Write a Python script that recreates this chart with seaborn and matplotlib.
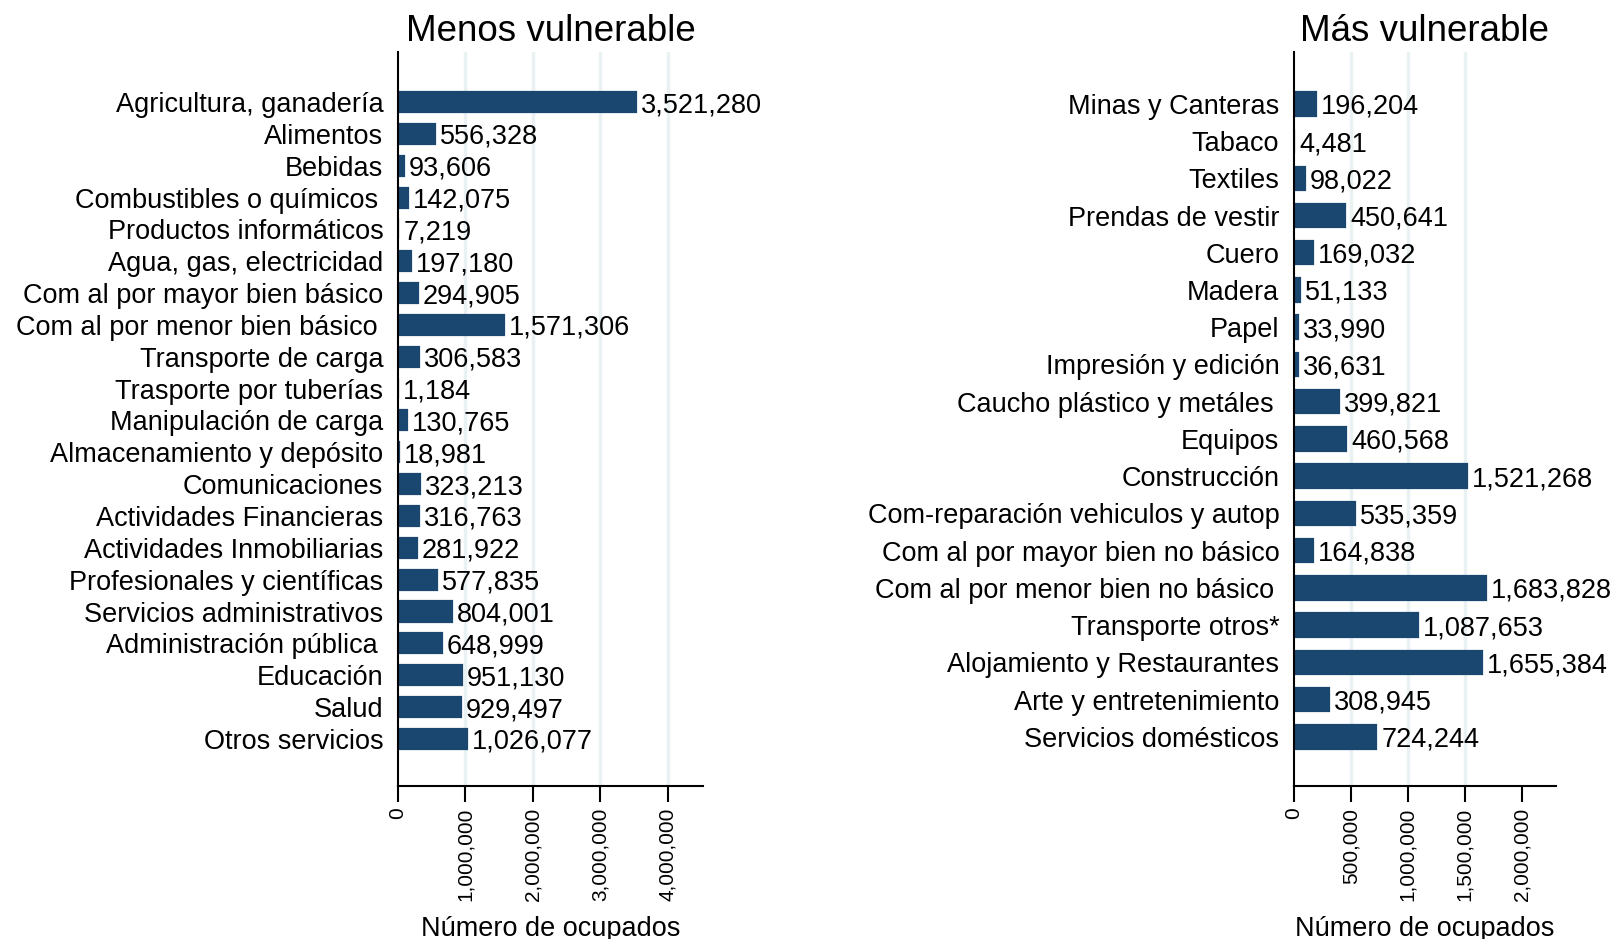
import pandas as pd
import matplotlib.pyplot as plt
import matplotlib.ticker as mticker
import seaborn as sns

# Menos vulnerable
sect_menos = ['Agricultura, ganadería', 'Alimentos', 'Bebidas', 'Combustibles o químicos\u2009',
              'Productos informáticos', 'Agua, gas, electricidad', 'Com al por mayor bien básico',
              'Com al por menor bien básico\u2009', 'Transporte de carga', 'Trasporte por tuberías',
              'Manipulación de carga', 'Almacenamiento y depósito', 'Comunicaciones',
              'Actividades Financieras', 'Actividades Inmobiliarias', 'Profesionales y científicas',
              'Servicios administrativos', 'Administración pública\u2009', 'Educación', 'Salud',
              'Otros servicios']
ocup_menos = [3521280, 556328, 93606, 142075, 7219, 197180, 294905, 1571306, 306583, 1184,
              130765, 18981, 323213, 316763, 281922, 577835, 804001, 648999, 951130, 929497,
              1026077]

# Más vulnerable
sect_mas = ['Minas y Canteras', 'Tabaco', 'Textiles', 'Prendas de vestir', 'Cuero', 'Madera',
            'Papel', 'Impresión y edición', 'Caucho plástico y metáles\u2009', 'Equipos', 'Construcción',
            'Com-reparación vehiculos y autop', 'Com al por mayor bien no básico',
            'Com al por menor bien no básico\u2009', 'Transporte otros*', 'Alojamiento y Restaurantes',
            'Arte y entretenimiento', 'Servicios domésticos']
ocup_mas = [196204, 4481, 98022, 450641, 169032, 51133, 33990, 36631, 399821, 460568, 1521268,
            535359, 164838, 1683828, 1087653, 1655384, 308945, 724244]

ticks_menos = [0, 1000000, 2000000, 3000000, 4000000]
ticks_mas = [0, 500000, 1000000, 1500000, 2000000]

sns.set_style('white')
plt.rcParams['font.family'] = ['Liberation Sans', 'DejaVu Sans']
for k in ['text.color', 'axes.labelcolor', 'xtick.color', 'ytick.color']:
    plt.rcParams[k] = 'black'

navy = '#1a476f'
grid_col = '#e9f1f3'

fig = plt.figure(figsize=(16.13, 9.39), dpi=100)
ax1 = fig.add_axes([0.2467, 0.1629, 0.1891, 0.7817])
ax2 = fig.add_axes([0.8022, 0.1629, 0.1624, 0.7817])


def panel(ax, names, vals, ticks, grid, xmax, top, bottom, title):
    df = pd.DataFrame({'sector': names, 'ocupados': vals})
    sns.barplot(data=df, y='sector', x='ocupados', orient='h', color=navy,
                width=0.63, saturation=1, ax=ax, zorder=2,
                edgecolor=navy, linewidth=1.6)
    labs = ax.bar_label(ax.containers[0], labels=[f'{v:,}' for v in vals], padding=3.5,
                        fontsize=19.5)
    for t in labs:
        t.set_va('center_baseline')
    for g in grid:
        ax.axvline(g, color=grid_col, lw=2.5, zorder=0)
    n = len(names)
    ax.set_ylim(n - 1 + bottom, -top)
    ax.set_xlim(0, xmax)
    ax.set_xticks(ticks)
    ax.xaxis.set_major_formatter(mticker.FuncFormatter(lambda v, p: f'{int(v):,}'))
    ax.tick_params(axis='x', labelrotation=90, labelsize=15, length=11.5, width=1.5,
                   direction='out', pad=4, bottom=True)
    ax.tick_params(axis='y', labelsize=19.5, length=0, pad=10.5)
    ax.set_ylabel('')
    ax.set_xlabel('Número de ocupados', fontsize=19.5, labelpad=11)
    ax.set_title(title, fontsize=26.5, pad=8)
    sns.despine(ax=ax)
    for s in ['left', 'bottom']:
        ax.spines[s].set_linewidth(1.5)
        ax.spines[s].set_color('black')


panel(ax1, sect_menos, ocup_menos, ticks_menos, [1000000, 2000000, 3000000, 4000000],
      4520000, 1.57, 1.48, 'Menos vulnerable')
panel(ax2, sect_mas, ocup_mas, ticks_mas, [500000, 1000000, 1500000],
      2300000, 1.39, 1.32, 'Más vulnerable')

plt.savefig('out.png', dpi=100)
